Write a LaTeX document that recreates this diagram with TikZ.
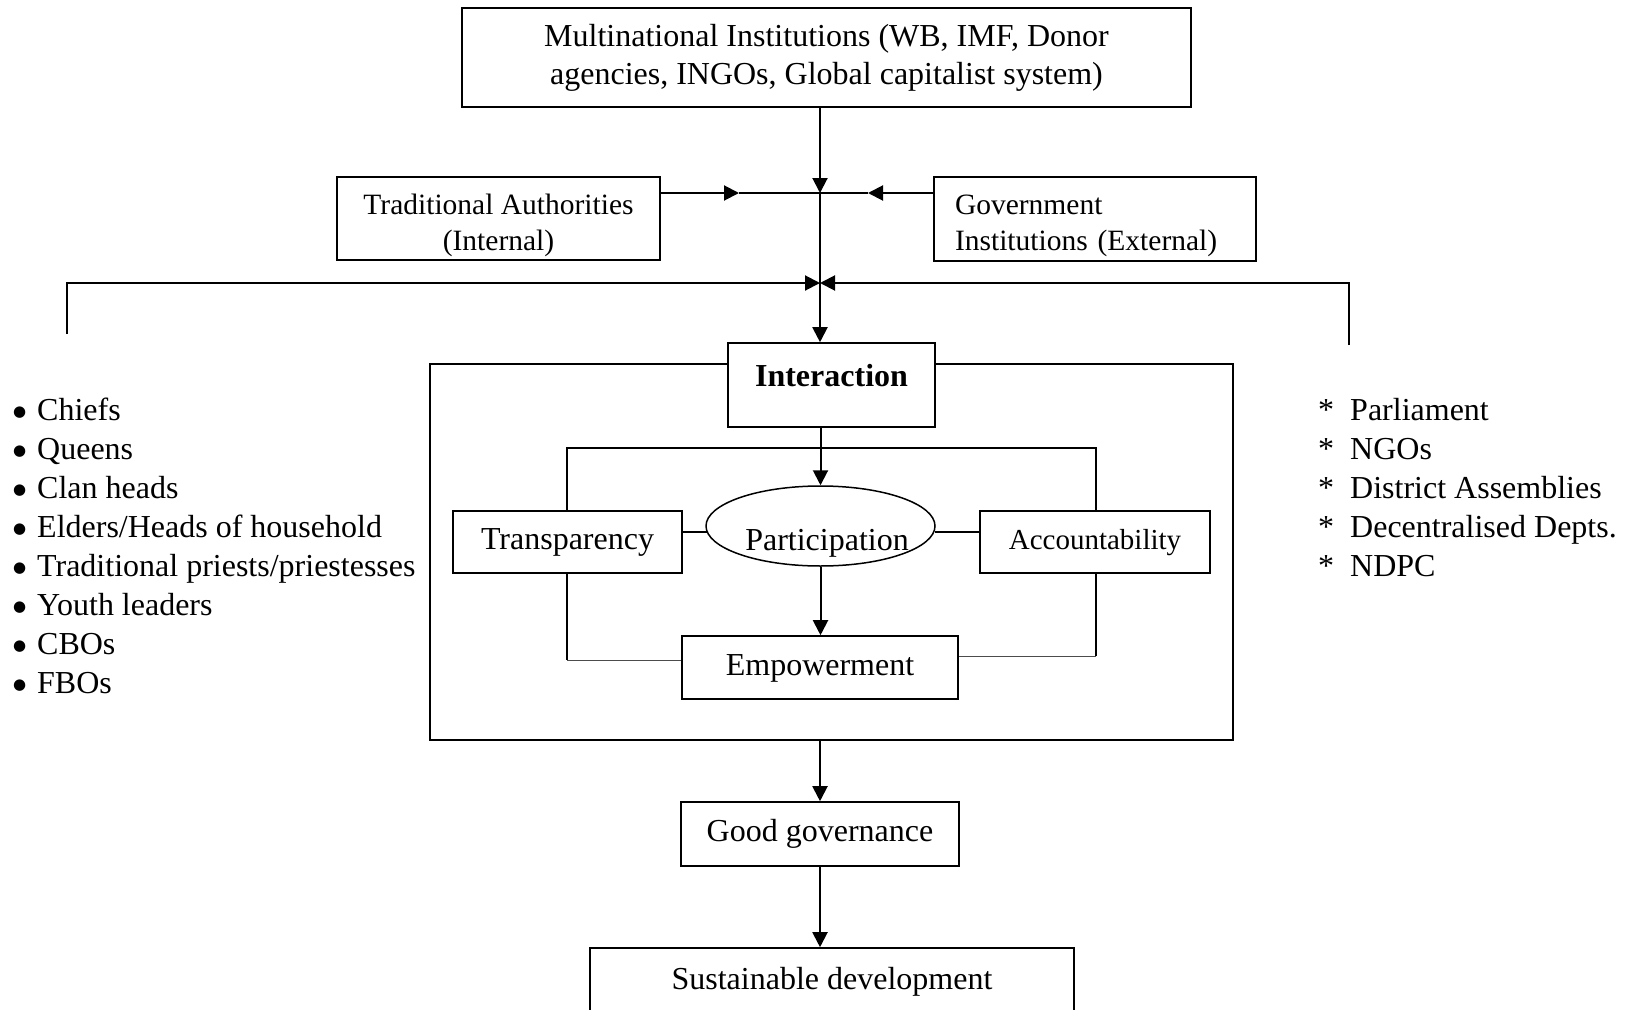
\documentclass[tikz,border=0pt]{standalone}
\usepackage{fontspec}
\setmainfont{Liberation Serif}
\newfontfamily\dejavu{DejaVu Sans}
\usetikzlibrary{arrows.meta,shapes.geometric}
\newcommand{\mybul}{\makebox[26pt][l]{\hspace{2pt}\raisebox{4pt}{\dejavu\fontsize{15}{15}\selectfont ●}}}
\newcommand{\myast}{\makebox[32pt][l]{*}}
\begin{document}
\begin{tikzpicture}[x=1pt,y=-1pt,
  txt/.style={font=\fontsize{32}{38}\selectfont, text height=22pt, text depth=7pt},
  mtxt/.style={font=\fontsize{32}{38}\selectfont},
  stxt/.style={font=\fontsize{29.5}{36}\selectfont},
  box/.style={draw, line width=1.6pt, inner sep=0pt, rectangle},
  item/.style={txt, inner sep=0pt, anchor=west},
  arr/.style={line width=2pt, -{Triangle[length=15pt,width=15pt]}},
  ln/.style={line width=1.6pt},
  thinln/.style={line width=1pt, black!70}
]
\clip (0,0) rectangle (1632,1009);
\useasboundingbox (0,0) rectangle (1632,1009);

% boxes
\node[box, mtxt, align=center, minimum width=729pt, minimum height=99pt] (top) at (826.5,57.5)
  {Multinational Institutions (WB, IMF, Donor\\agencies, INGOs, Global capitalist system)};
\node[box, stxt, align=center, minimum width=323pt, minimum height=83pt] (trad) at (498.5,218.5)
  {\rule{0pt}{34pt}Traditional Authorities\\(Internal)};
\node[box, stxt, align=left, text width=280pt, minimum width=322pt, minimum height=84pt] (gov) at (1095,219)
  {\rule{0pt}{34pt}Government\\Institutions (External)};
\node[box, minimum width=803pt, minimum height=376pt] (frame) at (831.5,552) {};
\node[box, fill=white, txt, font=\bfseries\fontsize{32}{38}\selectfont, text depth=20pt, minimum width=207pt, minimum height=84pt] (inter) at (831.5,385) {Interaction};
\node[box, txt, minimum width=229pt, minimum height=62pt] (transp) at (567.5,542) {Transparency};
\node[draw, ellipse, line width=1.5pt, inner sep=0pt, minimum width=229pt, minimum height=80pt] (part) at (820.5,526) {};
\node[txt, inner sep=0pt] (partlbl) at (827,543) {Participation};
\node[box, txt, font=\fontsize{29}{36}\selectfont, minimum width=230pt, minimum height=62pt] (acc) at (1095,542) {Accountability};
\node[box, txt, minimum width=276pt, minimum height=63pt] (emp) at (820,667.5) {Empowerment};
\node[box, txt, minimum width=278pt, minimum height=64pt] (gg) at (820,834) {Good governance};
\node[box, txt, minimum width=484pt, minimum height=68pt] (sd) at (832,982) {Sustainable development};

% junction coordinates
\coordinate (j1) at (820,193);
\coordinate (ta) at (739,193);
\coordinate (ga) at (868,193);
\coordinate (j2) at (820,283);
\coordinate (lcorner) at (67,283);
\coordinate (lend) at (67,334);
\coordinate (rcorner) at (1349,283);
\coordinate (rend) at (1349,345);
\coordinate (lt) at (567,448);
\coordinate (rt) at (1096,448);
\coordinate (lb) at (567,660);
\coordinate (rb) at (1096,656);

% top connectors
\draw[arr] (top.south -| j1) -- (j1);
\draw[arr] (trad.east |- ta) -- (ta);
\draw[arr] (gov.west |- ga) -- (ga);
\draw[ln] (ta) -- (ga);
\draw[line width=2pt] (j1) -- (j2);
\draw[arr] (lend) -- (lcorner) -- (j2);
\draw[arr] (rend) -- (rcorner) -- (j2);
\draw[arr] (j2) -- (j2 |- inter.north);

% inner connectors
\draw[arr] (inter.south -| part.north) -- (part.north);
\draw[arr] (part.south) -- (emp.north -| part.south);
\draw[ln] (transp.east |- part.183) -- (part.183);
\draw[ln] (part.357) -- (acc.west |- part.357);
\draw[ln] (transp.north -| lt) -- (lt) -- (rt) -- (acc.north -| rt);
\draw[ln] (transp.south -| lb) -- (lb);
\draw[thinln] (lb) -- (emp.west |- lb);
\draw[ln] (acc.south -| rb) -- (rb);
\draw[thinln] (rb) -- (emp.east |- rb);

% bottom connectors
\draw[arr] (gg.north |- frame.south) -- (gg.north);
\draw[arr] (gg.south) -- (gg.south |- sd.north);

% left list
\foreach \t [count=\i from 0] in {Chiefs, Queens, Clan heads, Elders/Heads of household, Traditional priests/priestesses, Youth leaders, CBOs, FBOs} {
  \node[item] (L\i) at (11, 413+39*\i) {\mybul\t};
}
% right list
\foreach \t [count=\i from 0] in {Parliament, NGOs, District Assemblies, Decentralised Depts., NDPC} {
  \node[item] (R\i) at (1318, 413+39*\i) {\myast\t};
}
\end{tikzpicture}
\end{document}
